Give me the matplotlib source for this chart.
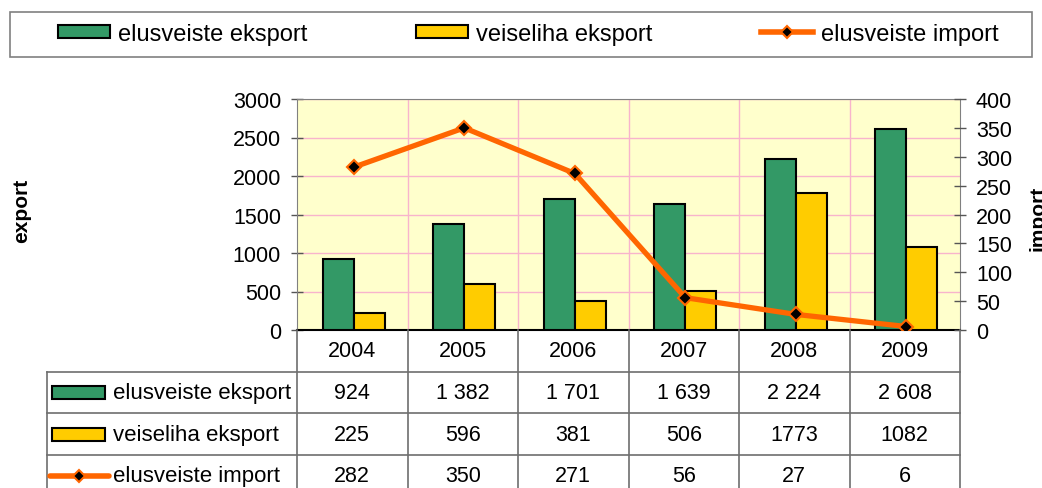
# Elusveiste ja veiseliha eksport / import 2004-2009

import numpy as np
import matplotlib.pyplot as plt
from matplotlib.patches import Patch, Rectangle
from matplotlib.lines import Line2D

plt.rcParams['font.family'] = ['Liberation Sans', 'DejaVu Sans']

# Daten
years = ['2004', '2005', '2006', '2007', '2008', '2009']
elus_eksport = [924, 1382, 1701, 1639, 2224, 2608]
veiseliha_eksport = [225, 596, 381, 506, 1773, 1082]
elus_import = [282, 350, 271, 56, 27, 6]
elus_eksport_txt = ['924', '1 382', '1 701', '1 639', '2 224', '2 608']
veiseliha_eksport_txt = ['225', '596', '381', '506', '1773', '1082']
elus_import_txt = ['282', '350', '271', '56', '27', '6']
names = ['elusveiste eksport', 'veiseliha eksport', 'elusveiste import']

GREEN = '#339966'
YELLOW = '#FFCC00'
ORANGE = '#FF6600'
BG = '#FFFFCC'
GRID = '#F8B4CC'
TABLE = '#6E6E6E'

W, H = 1042, 489
fig = plt.figure(figsize=(W / 100, H / 100), dpi=100)


def box(x0, y0, x1, y1):
    # Pixel -> Figurkoordinaten
    return [x0 / W, 1 - y1 / H, (x1 - x0) / W, (y1 - y0) / H]


def handles():
    return [Patch(facecolor=GREEN, edgecolor='black', linewidth=1.5),
            Patch(facecolor=YELLOW, edgecolor='black', linewidth=1.5),
            Line2D([], [], color=ORANGE, linewidth=4, marker='D', markersize=6,
                   markerfacecolor='black', markeredgecolor=ORANGE, markeredgewidth=1.5)]


# Diagramm
ax = fig.add_axes(box(297, 100, 960, 331))
ax.set_facecolor(BG)
x = np.arange(len(years))
bw = 0.28
ax.bar(x - bw / 2 + 0.014, elus_eksport, bw, color=GREEN, edgecolor='black', linewidth=1.5, zorder=3)
ax.bar(x + bw / 2 + 0.014, veiseliha_eksport, bw, color=YELLOW, edgecolor='black', linewidth=1.5, zorder=3)
ax.set_xlim(-0.5, 5.5)
ax.set_ylim(0, 3000)
ax.set_yticks(np.arange(0, 3001, 500))
ax.set_xticks([])
for yv in np.arange(500, 3001, 500):
    ax.axhline(yv, color=GRID, linewidth=1, zorder=1)
for xv in np.arange(0.5, 5.5, 1):
    ax.axvline(xv, color=GRID, linewidth=1, zorder=1)
ax.tick_params(axis='y', direction='inout', length=9, width=1, labelsize=15.5, pad=7, color='#555555')
for s in ['top', 'right', 'left']:
    ax.spines[s].set_color('#808080')
ax.spines['bottom'].set_color('black')
ax.spines['bottom'].set_linewidth(1.5)

ax2 = ax.twinx()
ax2.plot(x + 0.014, elus_import, color=ORANGE, linewidth=3.8, marker='D', markersize=7,
         markerfacecolor='black', markeredgecolor=ORANGE, markeredgewidth=1.5, zorder=5)
ax2.set_ylim(0, 400)
ax2.set_yticks(np.arange(0, 401, 50))
ax2.tick_params(axis='y', direction='inout', length=9, width=1, labelsize=15.5, pad=7, color='#555555')
for s in ax2.spines.values():
    s.set_visible(False)

fig.text(22 / W, 1 - 211 / H, 'export', rotation=90, fontsize=15, fontweight='bold',
         ha='center', va='center')
fig.text(1038 / W, 1 - 218 / H, 'import', rotation=90, fontsize=15, fontweight='bold',
         ha='center', va='center')

# Legende oben
fig.patches.append(Rectangle((10 / W, 1 - 58 / H), 1022 / W, 45 / H, transform=fig.transFigure,
                             facecolor='none', edgecolor='#808080', linewidth=1.2))
fig.legend(handles(), names, loc='center left', bbox_to_anchor=(58 / W, 1 - 35 / H),
           ncol=3, frameon=False, fontsize=17, handlelength=2.2, handleheight=0.5,
           handletextpad=0.34, columnspacing=4.6, borderpad=0, borderaxespad=0)

# Datentabelle
tab = fig.add_axes(box(47, 331, 960, 489))
ux = 1 / 110.5
left = -0.5 - 250 * ux
tab.set_xlim(left, 5.5)
tab.set_ylim(158 / 41.7, 0)
tab.axis('off')
for xv in np.arange(-0.5, 6, 1):
    tab.plot([xv, xv], [0, 5], color=TABLE, linewidth=1.2, clip_on=False)
tab.plot([left, left], [1, 5], color=TABLE, linewidth=1.2, clip_on=False)
for yv in [1, 2, 3]:
    tab.plot([left, 5.5], [yv, yv], color=TABLE, linewidth=1.2, clip_on=False)

for i, yr in enumerate(years):
    tab.text(i, 0.5, yr, ha='center', va='center', fontsize=15.5)
for r, row in enumerate([elus_eksport_txt, veiseliha_eksport_txt, elus_import_txt]):
    for i, t in enumerate(row):
        tab.text(i, r + 1.5, t, ha='center', va='center', fontsize=15.5)

for r, (h, name) in enumerate(zip(handles(), names)):
    yc = r + 1.5
    if isinstance(h, Patch):
        tab.add_patch(Rectangle((left + 5 * ux, yc - 0.15), 53 * ux, 0.3,
                                facecolor=h.get_facecolor(), edgecolor='black', linewidth=1.5))
    else:
        tab.plot([left + 3 * ux, left + 62 * ux], [yc, yc], color=ORANGE, linewidth=4,
                 solid_capstyle='round')
        tab.plot([left + 32 * ux], [yc], marker='D', markersize=6, color='black',
                 markeredgecolor=ORANGE, markeredgewidth=1.5)
    tab.text(left + 66 * ux, yc, name, ha='left', va='center', fontsize=16)

plt.savefig('out.png', dpi=100)
